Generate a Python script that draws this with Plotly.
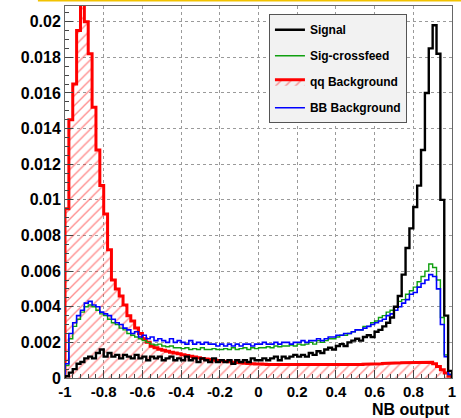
import numpy as np
import plotly.graph_objects as go

# NB output distributions, 100 bins on [-1, 1], normalised per sample
x_min, x_max, n_bins = -1.0, 1.0, 100

signal = [
    0.0001, 0.0003, 0.0005, 0.0008, 0.0009, 0.0011, 0.0012, 0.0011, 0.0014, 0.0016,
    0.0012, 0.0014, 0.0012, 0.0013, 0.0011, 0.0013, 0.0012, 0.0011, 0.0013, 0.0011,
    0.0012, 0.0010, 0.0012, 0.0011, 0.0012, 0.0010, 0.0011, 0.0012, 0.0010, 0.0011,
    0.0010, 0.0012, 0.0010, 0.0011, 0.0009, 0.0011, 0.0010, 0.0009, 0.0011, 0.0009,
    0.0010, 0.0009, 0.0010, 0.0008, 0.0010, 0.0009, 0.0010, 0.0009, 0.0011, 0.0010,
    0.0010, 0.0011, 0.0010, 0.0011, 0.0012, 0.0010, 0.0012, 0.0011, 0.0012, 0.0013,
    0.0012, 0.0013, 0.0012, 0.0014, 0.0013, 0.0015, 0.0014, 0.0016, 0.0017, 0.0016,
    0.0018, 0.0019, 0.0018, 0.0020, 0.0021, 0.0022, 0.0021, 0.0023, 0.0024, 0.0023,
    0.0026, 0.0027, 0.0029, 0.0031, 0.0034, 0.0040, 0.0046, 0.0058, 0.0073, 0.0084,
    0.0096, 0.0108, 0.0128, 0.0160, 0.0185, 0.0198, 0.0182, 0.0100, 0.0035, 0.0004,
]

sig_crossfeed = [
    0.0007, 0.0022, 0.0029, 0.0033, 0.0037, 0.0040, 0.0041, 0.0040, 0.0038, 0.0036,
    0.0035, 0.0033, 0.0031, 0.0030, 0.0028, 0.0027, 0.0025, 0.0024, 0.0023, 0.0022,
    0.0021, 0.0020, 0.0019, 0.00185, 0.0019, 0.0018, 0.00175, 0.0018, 0.0017, 0.0017,
    0.00165, 0.0017, 0.0016, 0.00165, 0.0016, 0.0017, 0.0016, 0.0016, 0.00165, 0.0016,
    0.0016, 0.00165, 0.0016, 0.0017, 0.0016, 0.00165, 0.0017, 0.0016, 0.0017, 0.00165,
    0.0017, 0.0017, 0.00175, 0.0017, 0.0018, 0.00175, 0.0018, 0.0018, 0.00185, 0.0018,
    0.0019, 0.00185, 0.0019, 0.0020, 0.0019, 0.0021, 0.0020, 0.0021, 0.0022, 0.0022,
    0.0023, 0.0024, 0.0024, 0.0025, 0.0026, 0.0027, 0.0027, 0.0029, 0.0029, 0.0031,
    0.0032, 0.0034, 0.0035, 0.0037, 0.0038, 0.0040, 0.0043, 0.0044, 0.0047, 0.0049,
    0.0051, 0.0054, 0.0057, 0.0060, 0.0064, 0.0062, 0.0055, 0.0034, 0.0013, 0.0002,
]

qq_background = [
    0.0095, 0.0145, 0.0165, 0.0195, 0.0215, 0.0200, 0.0182, 0.0152, 0.0128, 0.0108,
    0.0092, 0.0072, 0.0055, 0.0050, 0.0046, 0.0041, 0.0035, 0.0032, 0.0028, 0.0025,
    0.0022, 0.0020, 0.00178, 0.0017, 0.00162, 0.00156, 0.0015, 0.00145, 0.0014, 0.00136,
    0.0013, 0.00126, 0.00122, 0.00118, 0.00114, 0.0011, 0.00107, 0.00104, 0.00101, 0.00098,
    0.00095, 0.00093, 0.00091, 0.00089, 0.00087, 0.00085, 0.00083, 0.00082, 0.0008, 0.00079,
    0.00078, 0.00077, 0.00076, 0.00076, 0.00075, 0.00075, 0.00074, 0.00074, 0.00073, 0.00073,
    0.00073, 0.00072, 0.00073, 0.00072, 0.00072, 0.00073, 0.00072, 0.00073, 0.00073, 0.00074,
    0.00074, 0.00075, 0.00074, 0.00075, 0.00076, 0.00075, 0.00076, 0.00077, 0.00076, 0.00078,
    0.00079, 0.0008, 0.00081, 0.00082, 0.00083, 0.00084, 0.00085, 0.00086, 0.00087, 0.00088,
    0.00089, 0.0009, 0.0009, 0.00089, 0.00088, 0.0008, 0.00064, 0.00046, 0.00028, 0.0001,
]

bb_background = [
    0.0008, 0.0025, 0.0031, 0.0035, 0.0038, 0.0042, 0.0043, 0.0041, 0.0040, 0.0037,
    0.0036, 0.0035, 0.0033, 0.0031, 0.0030, 0.0028, 0.0027, 0.0025, 0.0026, 0.0023,
    0.0024, 0.0022, 0.0023, 0.0021, 0.0022, 0.0021, 0.0020, 0.0022, 0.0020, 0.0021,
    0.0020, 0.0019, 0.0021, 0.0019, 0.0020, 0.0019, 0.0020, 0.0019, 0.0019, 0.0018,
    0.0019, 0.0018, 0.0019, 0.0018, 0.0019, 0.0018, 0.0019, 0.0019, 0.0018, 0.0019,
    0.0019, 0.0020, 0.0019, 0.0019, 0.0020, 0.0019, 0.0020, 0.0020, 0.0019, 0.0020,
    0.0020, 0.0021, 0.0020, 0.0021, 0.0021, 0.0022, 0.0021, 0.0022, 0.0023, 0.0023,
    0.0024, 0.0024, 0.0025, 0.0025, 0.0026, 0.0027, 0.0027, 0.0028, 0.0029, 0.0030,
    0.0031, 0.0032, 0.0033, 0.0035, 0.0036, 0.0038, 0.0040, 0.0042, 0.0044, 0.0047,
    0.0048, 0.0051, 0.0053, 0.0055, 0.0058, 0.0057, 0.0050, 0.0030, 0.0012, 0.0002,
]

x_tick_values = [-1, -0.8, -0.6, -0.4, -0.2, 0, 0.2, 0.4, 0.6, 0.8, 1]
x_tick_labels = ["-1", "-0.8", "-0.6", "-0.4", "-0.2", "0", "0.2", "0.4", "0.6", "0.8", "1"]
x_title = "NB output"

edges = np.linspace(x_min, x_max, n_bins + 1)


def hist_outline(values):
    """Step outline of a binned histogram, closed down to zero at both ends."""
    xs, ys = [edges[0]], [0.0]
    for i, v in enumerate(values):
        xs += [edges[i], edges[i + 1]]
        ys += [v, v]
    xs.append(edges[-1])
    ys.append(0.0)
    return xs, ys


fig = go.Figure()

qx, qy = hist_outline(qq_background)
fig.add_trace(go.Scatter(
    x=qx, y=qy, mode="lines", name="qq Background", legendrank=3,
    legendgroup="qq",
    line=dict(color="#ff0000", width=3),
    fill="tozeroy", fillcolor="rgba(255,255,255,0)",
    fillpattern=dict(shape="/", fgcolor="#ff2020", bgcolor="rgba(255,255,255,0)",
                     size=7, solidity=0.2),
))

gx, gy = hist_outline(sig_crossfeed)
fig.add_trace(go.Scatter(
    x=gx, y=gy, mode="lines", name="Sig-crossfeed", legendrank=2,
    legendgroup="cf", line=dict(color="#10a010", width=1.4),
))

bx, by = hist_outline(bb_background)
fig.add_trace(go.Scatter(
    x=bx, y=by, mode="lines", name="BB Background", legendrank=4,
    legendgroup="bb", line=dict(color="#0000ff", width=1.6),
))

sx, sy = hist_outline(signal)
fig.add_trace(go.Scatter(
    x=sx, y=sy, mode="lines", name="Signal", legendrank=1,
    legendgroup="sig", line=dict(color="#000000", width=2.4),
))

y_tick_font = dict(family="Liberation Sans", size=16, color="black", weight="bold")
x_tick_font = dict(family="Liberation Sans", size=15, color="black", weight="bold")

fig.update_xaxes(
    range=[x_min, x_max],
    tickmode="array", tickvals=x_tick_values, ticktext=x_tick_labels,
    ticks="inside", ticklen=8, tickcolor="#444", tickfont=x_tick_font,
    ticklabelstandoff=0,
    minor=dict(dtick=0.04, tick0=-1, ticks="inside", ticklen=4, tickcolor="#444", showgrid=False),
    showgrid=True, gridcolor="#9a9a9a", griddash="dot", gridwidth=1,
    showline=True, linecolor="#666", linewidth=1, mirror=True,
    zeroline=False,
)
fig.update_yaxes(
    range=[0, 0.02088],
    tickmode="linear", tick0=0, dtick=0.002,
    ticks="inside", ticklen=8, tickcolor="#444", tickfont=y_tick_font,
    minor=dict(dtick=0.0005, tick0=0, ticks="inside", ticklen=4, tickcolor="#444", showgrid=False),
    showgrid=True, gridcolor="#9a9a9a", griddash="dot", gridwidth=1,
    showline=True, linecolor="#666", linewidth=1, mirror=True,
    zeroline=False,
)

fig.add_annotation(
    text=x_title, xref="paper", yref="paper", x=1.0, y=-0.084,
    xanchor="right", yanchor="middle", showarrow=False,
    font=dict(family="Liberation Sans", size=16, color="black", weight="bold"),
)

# thin gold rule across the top of the canvas
fig.add_shape(type="line", xref="paper", yref="paper",
              x0=-0.07, x1=1.03, y0=1.0145, y1=1.0145,
              line=dict(color="#f2c200", width=2))

fig.update_layout(
    width=461, height=418,
    margin=dict(l=65, r=9, t=6, b=40),
    paper_bgcolor="white", plot_bgcolor="white",
    showlegend=True,
    legend=dict(
        x=0.527, y=0.978, xanchor="left", yanchor="top",
        bgcolor="#f2f2f2", bordercolor="#555", borderwidth=1,
        font=dict(family="Liberation Sans", size=12, color="black", weight="bold"),
        tracegroupgap=7,
    ),
)

fig.write_html("out.html")
